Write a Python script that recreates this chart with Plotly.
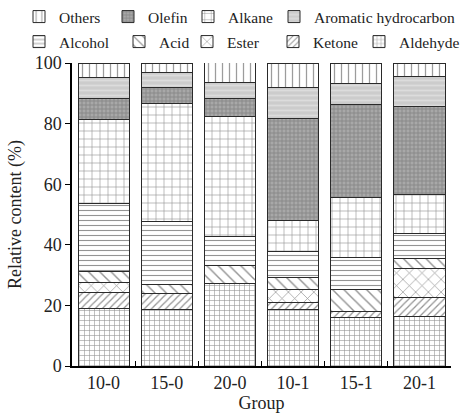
import plotly.graph_objects as go

groups = ["10-0", "15-0", "20-0", "10-1", "15-1", "20-1"]

# stacked from bottom to top
aldehyde = [19.0, 18.8, 27.3, 18.8, 16.0, 16.3]
ketone   = [5.3, 5.2, 0.0, 2.1, 1.9, 6.3]
ester    = [3.3, 0.0, 0.0, 4.2, 0.0, 9.6]
acid     = [3.5, 3.0, 6.0, 4.1, 7.2, 3.3]
alcohol  = [22.5, 20.6, 9.3, 8.5, 10.7, 8.3]
alkane   = [27.7, 39.2, 39.6, 10.4, 19.8, 12.9]
olefin   = [6.9, 5.0, 6.0, 33.6, 30.7, 29.1]
aromatic = [7.0, 5.2, 5.3, 10.2, 6.9, 9.8]
others   = [4.8, 3.0, 7.1, 8.1, 6.8, 4.4]

y_ticks = [0, 20, 40, 60, 80, 100]

FONT = "Liberation Serif"
BAR_W = 0.81
W, H = 461, 417
ML, MR, MT, MB = 72, 10, 63, 51

series = [
    ("Aldehyde", aldehyde, dict(shape="+", size=5, solidity=0.22, fgcolor="#2a2a2a", bgcolor="white")),
    ("Ketone", ketone, dict(shape="/", size=5, solidity=0.25, fgcolor="#2a2a2a", bgcolor="white")),
    ("Ester", ester, dict(shape="x", size=9, solidity=0.15, fgcolor="#2a2a2a", bgcolor="white")),
    ("Acid", acid, dict(shape="\\", size=8, solidity=0.18, fgcolor="#2a2a2a", bgcolor="white")),
    ("Alcohol", alcohol, dict(shape="-", size=5, solidity=0.22, fgcolor="#2a2a2a", bgcolor="white")),
    ("Alkane", alkane, dict(shape="+", size=8, solidity=0.15, fgcolor="#2a2a2a", bgcolor="white")),
    ("Olefin", olefin, dict(shape="+", size=4, solidity=0.4, fgcolor="#666", bgcolor="#a8a8a8")),
    ("Aromatic hydrocarbon", aromatic, dict(shape="-", size=5, solidity=0.35, fgcolor="#ececec", bgcolor="#cccccc")),
    ("Others", others, dict(shape="|", size=7, solidity=0.18, fgcolor="#3a3a3a", bgcolor="white")),
]

# legend entry placement: (left edge of legend box in px, row centre in px from top)
legend_pos = {
    "Others": (19, 17), "Olefin": (108, 17), "Alkane": (188, 17), "Aromatic hydrocarbon": (274, 17),
    "Alcohol": (19, 42), "Acid": (119, 42), "Ester": (187, 42), "Ketone": (273, 42), "Aldehyde": (359, 42),
}

fig = go.Figure()
legend_layout = {}
for idx, (name, vals, pat) in enumerate(series):
    p = dict(pat)
    p["fillmode"] = "overlay"
    lname = "legend" if idx == 0 else f"legend{idx + 1}"
    fig.add_trace(go.Bar(
        x=groups, y=vals, name=name, width=BAR_W,
        marker=dict(color=p["bgcolor"], pattern=p, line=dict(color="#2a2a2a", width=1)),
        legend=lname,
    ))
    px_x, px_y = legend_pos[name]
    legend_layout[lname] = dict(
        orientation="h", xref="container", yref="container",
        xanchor="left", yanchor="middle",
        x=px_x / W, y=1 - px_y / H,
        font=dict(family=FONT, size=15.5, color="#222"), itemwidth=30,
        bgcolor="rgba(0,0,0,0)", borderwidth=0,
    )

# dashed connectors between neighbouring bars at each segment boundary
cums = []
for i in range(len(groups)):
    c, acc = [], 0.0
    for _, vals, _ in series[:-1]:
        acc += vals[i]
        c.append(acc)
    cums.append(c)

lx, ly = [], []
for i in range(len(groups) - 1):
    for k in range(len(cums[i])):
        lx += [i + BAR_W / 2, i + 1 - BAR_W / 2, None]
        ly += [cums[i][k], cums[i + 1][k], None]
fig.add_trace(go.Scatter(x=lx, y=ly, mode="lines", showlegend=False, hoverinfo="skip",
                         line=dict(color="black", width=1.3, dash="4px,3px")))

fig.update_layout(
    width=W, height=H,
    margin=dict(l=ML, r=MR, t=MT, b=MB, autoexpand=False),
    barmode="stack",
    plot_bgcolor="white", paper_bgcolor="white",
    font=dict(family=FONT, size=15, color="#222"),
    showlegend=True,
    **legend_layout,
)
fig.update_xaxes(
    type="category", range=[-0.5, 5.5],
    showline=True, linecolor="black", linewidth=1.5,
    ticks="inside", tickson="boundaries", ticklen=5, tickcolor="black",
    tickfont=dict(family=FONT, size=18), title=dict(text="Group", font=dict(family=FONT, size=18), standoff=4),
    showgrid=False,
)
fig.update_yaxes(
    range=[0, 100], tickvals=y_ticks,
    showline=True, linecolor="black", linewidth=1.5,
    ticks="outside", ticklen=5, tickcolor="black",
    tickfont=dict(family=FONT, size=18), title=dict(text="Relative content (%)", font=dict(family=FONT, size=18), standoff=8),
    showgrid=False, zeroline=False,
)

fig.write_html("out.html")
